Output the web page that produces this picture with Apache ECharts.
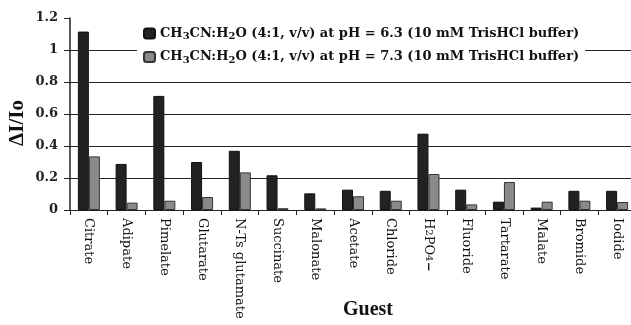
<!DOCTYPE html>
<html><head><meta charset="utf-8">
<script src="https://cdn.jsdelivr.net/npm/echarts@6/dist/echarts.min.js"></script>
<style>html,body{margin:0;padding:0;background:#fff}#c{width:631px;height:325px}</style>
</head><body><div id="c"></div>
<script>
var categories = ['Citrate','Adipate','Pimelate','Glutarate','N-Ts glutamate','Succinate','Malonate','Acetate','Chloride','H2PO4-','Fluoride','Tartarate','Malate','Bromide','Iodide'];
var seriesPH63 = [1.115,0.288,0.713,0.300,0.370,0.217,0.104,0.127,0.120,0.477,0.127,0.052,0.015,0.120,0.120];
var seriesPH73 = [0.335,0.046,0.058,0.081,0.235,0.011,0.010,0.086,0.058,0.225,0.035,0.175,0.052,0.058,0.050];
var seriesNames = ['pH63','pH73'];
var legendLabels = {
  pH63: 'CH{sub|3}CN:H{sub|2}O (4:1, v/v) at pH = 6.3 (10 mM TrisHCl buffer)',
  pH73: 'CH{sub|3}CN:H{sub|2}O (4:1, v/v) at pH = 7.3 (10 mM TrisHCl buffer)'
};
var yTicks = [0,0.2,0.4,0.6,0.8,1,1.2];

var serif = '"Liberation Serif",serif';
var wserif = '"DejaVu Serif",serif';
var chart = echarts.init(document.getElementById('c'), null, {renderer:'canvas'});
chart.setOption({
  animation:false,
  backgroundColor:'#fff',
  grid:{left:70, top:18, width:566, height:192, containLabel:false, outerBoundsMode:'none'},
  legend:{
    orient:'vertical', left:137, top:23, itemWidth:11, itemHeight:10, itemGap:9,
    backgroundColor:'#fff', padding:[4,6,4,6],
    data:seriesNames,
    formatter:function(n){return legendLabels[n];},
    textStyle:{fontFamily:wserif, fontWeight:'bold', fontSize:13, color:'#111',
      rich:{sub:{fontFamily:wserif, fontWeight:'bold', fontSize:10, color:'#111', verticalAlign:'bottom', padding:[6,0,0,0]}}}
  },
  xAxis:{
    type:'category', data:categories, name:'Guest', nameLocation:'middle', nameGap:90, nameMoveOverlap:false,
    nameTextStyle:{fontFamily:serif, fontWeight:'bold', fontSize:20, color:'#111', padding:[0,0,0,30]},
    axisLine:{lineStyle:{color:'#222', width:1}},
    axisTick:{show:true, length:5, lineStyle:{color:'#222'}},
    axisLabel:{rotate:-90, interval:0, margin:8, fontFamily:wserif, fontSize:13, color:'#111',
      formatter:function(v){ return v==='H2PO4-' ? 'H{sub|2}PO{sub|4}{sup|−}' : v; },
      rich:{sub:{fontFamily:wserif, fontSize:10, color:'#111'}, sup:{fontFamily:wserif, fontSize:12, fontWeight:'bold', color:'#111'}}}
  },
  yAxis:{
    type:'value', min:0, max:1.2, interval:0.2, name:'ΔI/Io', nameLocation:'middle', nameGap:42, nameMoveOverlap:false,
    nameTextStyle:{fontFamily:serif, fontWeight:'bold', fontSize:21, color:'#111', padding:[0,18,0,0]},
    axisLine:{show:true, lineStyle:{color:'#222', width:1.5}},
    axisTick:{show:true, length:6, lineStyle:{color:'#222'}},
    axisLabel:{margin:12, fontFamily:wserif, fontWeight:'bold', fontSize:13, color:'#222',
      formatter:function(v){ var i = yTicks.indexOf(Math.round(v*10)/10); return String(yTicks[i]); }},
    splitLine:{show:true, lineStyle:{color:['#222','#222','#222','#222','#222','#222','rgba(0,0,0,0)'], width:1.2}}
  },
  series:[
    {name:'pH63', type:'bar', data:seriesPH63, barWidth:11, barGap:'0%',
     itemStyle:{color:'#222', borderColor:'#111', borderWidth:1}},
    {name:'pH73', type:'bar', data:seriesPH73, barWidth:11, barGap:'0%',
     itemStyle:{color:'#8a8a8a', borderColor:'#333', borderWidth:1}}
  ]
});
</script></body></html>
